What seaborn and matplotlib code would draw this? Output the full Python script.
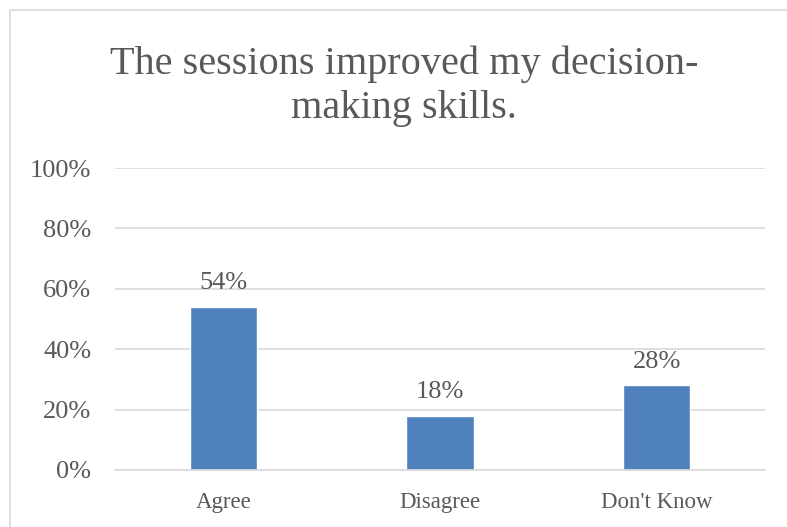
import matplotlib
matplotlib.use("Agg")
import matplotlib.pyplot as plt
import seaborn as sns
import pandas as pd
from matplotlib.lines import Line2D

categories = ["Agree", "Disagree", "Don't Know"]
percentages = [54, 18, 28]
yticks = [0, 20, 40, 60, 80, 100]
title = "The sessions improved my decision-\nmaking skills."

sns.set_theme(style="white")
plt.rcParams["font.family"] = ["Liberation Serif", "DejaVu Serif"]

text_color = "#595959"
bar_color = "#4F81BD"
grid_color = "#D9D9D9"

df = pd.DataFrame({"category": categories, "pct": percentages})

fig = plt.figure(figsize=(7.87, 5.27), dpi=100)
ax = fig.add_axes([115 / 787, 1 - 470 / 527, 650 / 787, 302 / 527])

sns.barplot(data=df, x="category", y="pct", color=bar_color, width=0.31,
            saturation=1, ax=ax)

ax.set_ylim(0, 100)
ax.set_xlim(-0.5, 2.5)
ax.set_yticks(yticks)
ax.set_yticklabels([f"{t}%" for t in yticks])
ax.yaxis.grid(True, color=grid_color, linewidth=1.2)
ax.set_axisbelow(True)
for side in ["top", "right", "left"]:
    ax.spines[side].set_visible(False)
ax.spines["bottom"].set_color(grid_color)
ax.spines["bottom"].set_linewidth(1.2)
ax.set_xlabel("")
ax.set_ylabel("")
ax.tick_params(axis="y", length=0, pad=17, labelsize=19, labelcolor=text_color)
ax.tick_params(axis="x", length=0, pad=16, labelsize=16.5, labelcolor=text_color)

for i, v in enumerate(percentages):
    ax.annotate(f"{v}%", (i, v), xytext=(0, 9), textcoords="offset points",
                ha="center", va="bottom", fontsize=19, color=text_color)

fig.text(404 / 787, 1 - 86 / 527, title, ha="center", va="center",
         fontsize=29, color=text_color, linespacing=1.24)

# chart frame edges (top and left)
fig.add_artist(Line2D([10 / 787, 1], [1 - 10 / 527, 1 - 10 / 527],
                      transform=fig.transFigure, color=grid_color, linewidth=1.2))
fig.add_artist(Line2D([10 / 787, 10 / 787], [0, 1 - 10 / 527],
                      transform=fig.transFigure, color=grid_color, linewidth=1.2))

fig.savefig("out.png", dpi=100)
